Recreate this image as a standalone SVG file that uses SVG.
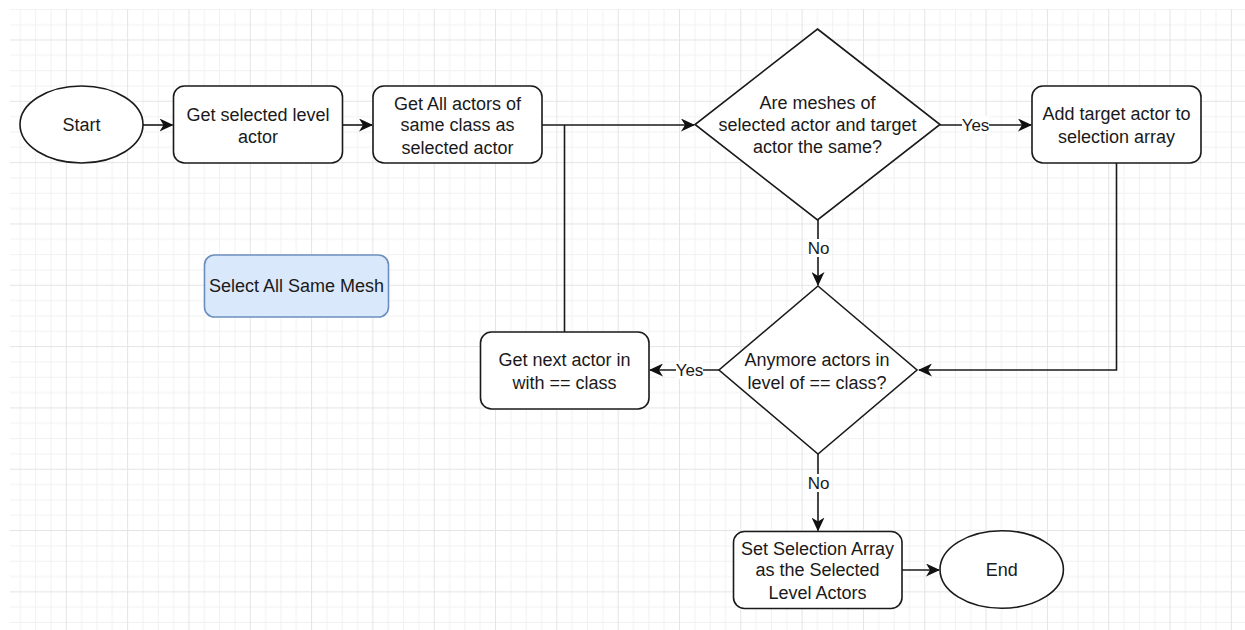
<svg xmlns="http://www.w3.org/2000/svg" width="1245" height="630" viewBox="0 0 1245 630">
  <defs>
    <!-- background grid: 4 minor cells per major cell -->
    <pattern id="grid" patternUnits="userSpaceOnUse" x="65.8" y="39.5" width="61.32" height="61.32">
      <g stroke="#f1f1f1" stroke-width="1">
        <line x1="15.83" y1="0" x2="15.83" y2="61.32"/>
        <line x1="31.16" y1="0" x2="31.16" y2="61.32"/>
        <line x1="46.49" y1="0" x2="46.49" y2="61.32"/>
        <line x1="0" y1="15.83" x2="61.32" y2="15.83"/>
        <line x1="0" y1="31.16" x2="61.32" y2="31.16"/>
        <line x1="0" y1="46.49" x2="61.32" y2="46.49"/>
      </g>
      <g stroke="#e4e4e4" stroke-width="1">
        <line x1="0.5" y1="0" x2="0.5" y2="61.32"/>
        <line x1="0" y1="0.5" x2="61.32" y2="0.5"/>
      </g>
    </pattern>
    <marker id="arrow" markerUnits="userSpaceOnUse" viewBox="0 0 14 13" refX="13" refY="6.5" markerWidth="14" markerHeight="13" orient="auto">
      <path d="M0,0 L14,6.5 L0,13 L4,6.5 Z" fill="#111"/>
    </marker>
    <style>
      .shape { fill: #ffffff; stroke: #1a1a1a; stroke-width: 1.6; }
      .title { fill: #dae8fc; stroke: #6c8ebf; stroke-width: 1.6; }
      .lbl { font-family: "Liberation Sans", Arial, sans-serif; font-size: 18px; fill: #1a1a1a; text-anchor: middle; }
      .elbl { font-family: "Liberation Sans", Arial, sans-serif; font-size: 17px; fill: #1a1a1a; text-anchor: middle; }
      .edge { fill: none; stroke: #1a1a1a; stroke-width: 1.6; }
      .lblbg { fill: #ffffff; }
    </style>
  </defs>

  <rect x="0" y="0" width="1245" height="630" fill="#ffffff"/>
  <rect x="10" y="9" width="1235" height="621" fill="url(#grid)"/>

  <!-- connectors -->
  <g id="connectors">
    <path class="edge" d="M143,125 H172.5" marker-end="url(#arrow)"/>
    <path class="edge" d="M342.5,125 H372" marker-end="url(#arrow)"/>
    <path class="edge" d="M542,125 H694" marker-end="url(#arrow)"/>
    <path class="edge" d="M940,125 H1031" marker-end="url(#arrow)"/>
    <path class="edge" d="M818,220 V285" marker-end="url(#arrow)"/>
    <path class="edge" d="M1116.5,163 V370 H919" marker-end="url(#arrow)"/>
    <path class="edge" d="M719,370 H650" marker-end="url(#arrow)"/>
    <path class="edge" d="M564.5,332 V125"/>
    <path class="edge" d="M818,454 V530.5" marker-end="url(#arrow)"/>
    <path class="edge" d="M902,570 H939" marker-end="url(#arrow)"/>

    <!-- edge labels -->
    <rect class="lblbg" x="962" y="116" width="27" height="18"/>
    <text class="elbl" x="975.5" y="131">Yes</text>
    <rect class="lblbg" x="808" y="239" width="21" height="18"/>
    <text class="elbl" x="818.5" y="254">No</text>
    <rect class="lblbg" x="676" y="361" width="27" height="18"/>
    <text class="elbl" x="689.5" y="376">Yes</text>
    <rect class="lblbg" x="808" y="474" width="21" height="18"/>
    <text class="elbl" x="818.5" y="489">No</text>
  </g>

  <g id="start">
    <ellipse class="shape" cx="81.5" cy="124.5" rx="61.5" ry="38.5"/>
    <text class="lbl" x="81.5" y="131">Start</text>
  </g>

  <g id="get-selected">
    <rect class="shape" x="173.5" y="86" width="169" height="77" rx="11"/>
    <text class="lbl" x="258" y="121.3">Get selected level</text>
    <text class="lbl" x="258" y="143">actor</text>
  </g>

  <g id="get-all">
    <rect class="shape" x="373" y="86" width="169" height="77" rx="11"/>
    <text class="lbl" x="457.5" y="109.6">Get All actors of</text>
    <text class="lbl" x="457.5" y="131.3">same class as</text>
    <text class="lbl" x="457.5" y="154">selected actor</text>
  </g>

  <g id="meshes-same">
    <polygon class="shape" points="817.5,29 940,124.5 817.5,220 695,124.5"/>
    <text class="lbl" x="817.5" y="109.3">Are meshes of</text>
    <text class="lbl" x="817.5" y="131.3">selected actor and target</text>
    <text class="lbl" x="817.5" y="153.3">actor the same?</text>
  </g>

  <g id="add-target">
    <rect class="shape" x="1032" y="86" width="169" height="77" rx="11"/>
    <text class="lbl" x="1116.5" y="120.3">Add target actor to</text>
    <text class="lbl" x="1116.5" y="143">selection array</text>
  </g>

  <g id="title">
    <rect class="title" x="204.5" y="255" width="184" height="62" rx="10"/>
    <text class="lbl" x="296.5" y="292.3">Select All Same Mesh</text>
  </g>

  <g id="get-next">
    <rect class="shape" x="480.5" y="332" width="168.5" height="77" rx="11"/>
    <text class="lbl" x="564.5" y="366.3">Get next actor in</text>
    <text class="lbl" x="564.5" y="388.6">with == class</text>
  </g>

  <g id="anymore-actors">
    <polygon class="shape" points="818,286 917,370 818,454 719,370"/>
    <text class="lbl" x="817" y="366.3">Anymore actors in</text>
    <text class="lbl" x="817" y="388.6">level of == class?</text>
  </g>

  <g id="set-selection">
    <rect class="shape" x="733.5" y="531.5" width="168.5" height="77" rx="11"/>
    <text class="lbl" x="817.5" y="555">Set Selection Array</text>
    <text class="lbl" x="817.5" y="575.6">as the Selected</text>
    <text class="lbl" x="817.5" y="599">Level Actors</text>
  </g>

  <g id="end">
    <ellipse class="shape" cx="1001.7" cy="569.5" rx="61.7" ry="38.8"/>
    <text class="lbl" x="1001.7" y="576">End</text>
  </g>
</svg>
